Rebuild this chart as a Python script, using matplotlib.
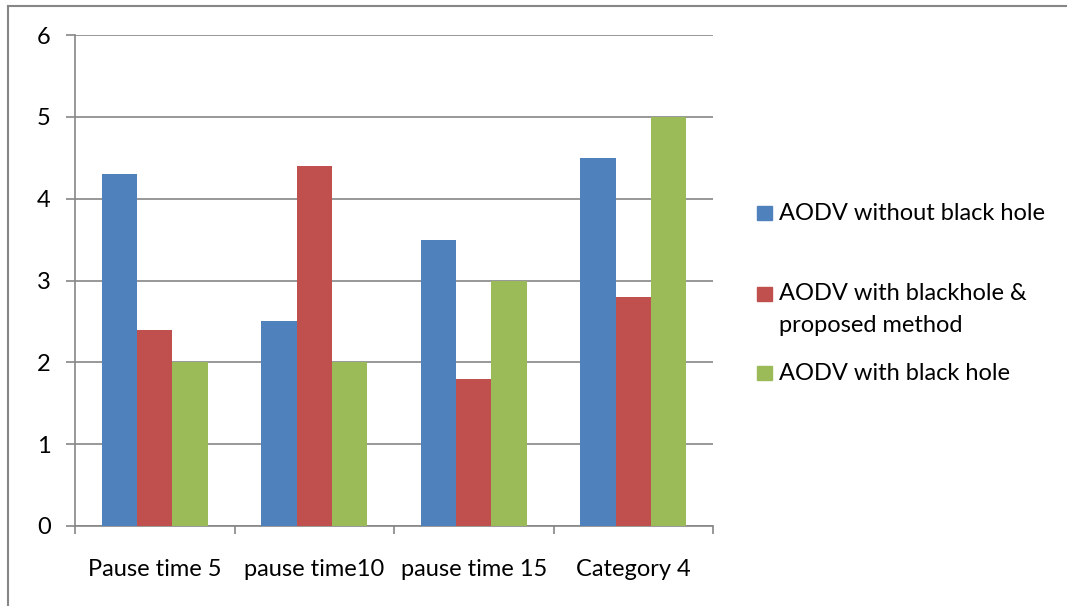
import matplotlib
matplotlib.use("Agg")
import matplotlib.pyplot as plt
import numpy as np
from matplotlib.patches import Rectangle
from matplotlib.lines import Line2D

categories = ["Pause time 5", "pause time10", "pause time 15", "Category 4"]
series_names = ["AODV without black hole",
                "AODV with blackhole &\nproposed method",
                "AODV with black hole"]
without_bh = [4.3, 2.5, 3.5, 4.5]
with_bh_proposed = [2.4, 4.4, 1.8, 2.8]
with_bh = [2.0, 2.0, 3.0, 5.0]
series_values = [without_bh, with_bh_proposed, with_bh]
colors = ["#4F81BD", "#C0504D", "#9BBB59"]
yticks = [0, 1, 2, 3, 4, 5, 6]

plt.rcParams['font.family'] = ['Lato', 'DejaVu Sans']
W, H = 1067, 606
FS = 17
fig = plt.figure(figsize=(W / 100, H / 100), dpi=100)

def fx(px):
    return px / W

def fy(py):
    return 1 - py / H

ax = fig.add_axes([fx(75), fy(526), fx(713) - fx(75), fy(35) - fy(526)])

n = len(categories)
bw = 1 / 4.5
x = np.arange(n)
for i, (vals, c) in enumerate(zip(series_values, colors)):
    ax.bar(x + (i - 1) * bw, vals, width=bw, color=c, edgecolor='none', zorder=3)

ax.set_xlim(-0.5, n - 0.5)
ax.set_ylim(0, 6)
ax.set_yticks(yticks)
ax.yaxis.grid(True, color='#868686', linewidth=1.2, zorder=0)
ax.set_axisbelow(True)

for s in ['top', 'right']:
    ax.spines[s].set_visible(False)
for s in ['left', 'bottom']:
    ax.spines[s].set_color('#868686')
    ax.spines[s].set_linewidth(1.2)

ax.tick_params(axis='y', length=6.5, width=1.2, color='#868686', pad=11,
               labelsize=FS, labelcolor='black')
ax.set_xticks(np.arange(n + 1) - 0.5)
ax.set_xticklabels([])
ax.tick_params(axis='x', which='major', length=6, width=1.2, color='#868686')
ax.set_xticks(x, minor=True)
ax.set_xticklabels(categories, minor=True)
ax.tick_params(axis='x', which='minor', length=0, pad=23.5, labelsize=FS,
               labelcolor='black')

# outer border of chart area
fig.add_artist(Line2D([fx(8), fx(8)], [fy(6), 0], color='#868686', lw=1.5,
                      transform=fig.transFigure))
fig.add_artist(Line2D([fx(8), 1], [fy(6), fy(6)], color='#868686', lw=1.5,
                      transform=fig.transFigure))

# legend
leg_y = [213, 294, 373]
line_gap = 31
for name, c, yy in zip(series_names, colors, leg_y):
    fig.add_artist(Rectangle((fx(757), fy(yy + 7)), fx(772) - fx(757),
                             fy(yy - 7) - fy(yy + 7), color=c,
                             transform=fig.transFigure))
    for k, line in enumerate(name.split('\n')):
        fig.text(fx(779), fy(yy + k * line_gap), line, fontsize=FS,
                 va='center', ha='left')

fig.savefig("out.png", dpi=100)
